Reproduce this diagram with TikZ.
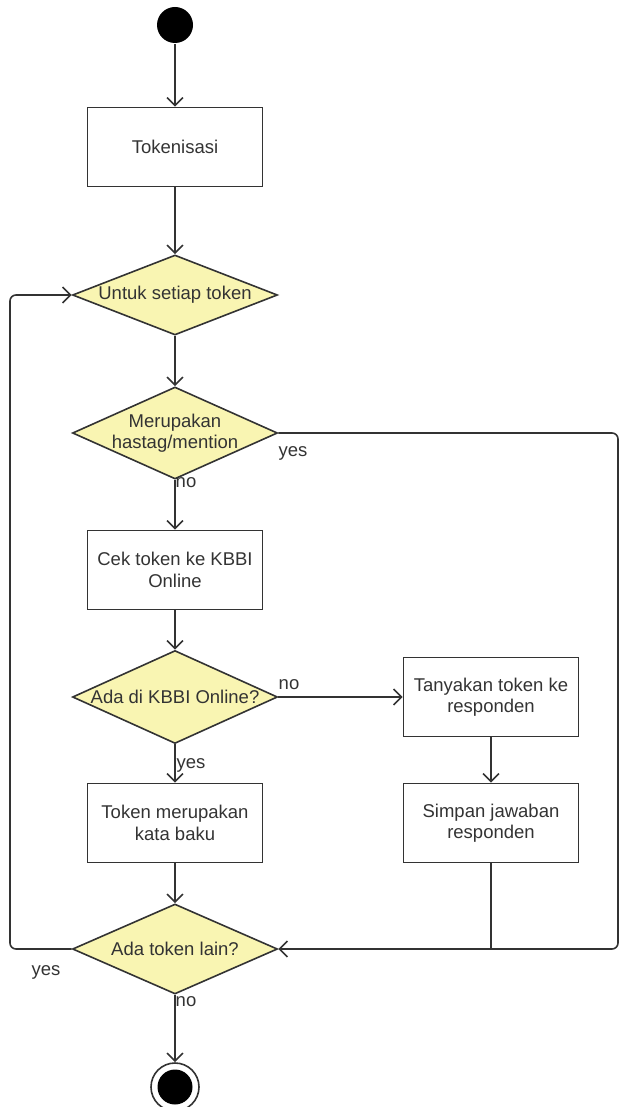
\documentclass[tikz,border=0pt]{standalone}
\usepackage{fontspec}
\setmainfont{Liberation Sans}
\usetikzlibrary{shapes.geometric, arrows.meta}

\definecolor{linegray}{RGB}{51,51,51}
\definecolor{dyellow}{RGB}{249,245,178}

\tikzset{
	box/.style={draw=linegray, line width=1.6pt, text=linegray, align=center,
		minimum width=175pt, minimum height=79pt, inner sep=0pt},
	decision/.style={diamond, draw=linegray, line width=1.6pt, fill=dyellow,
		text=linegray, align=center, inner xsep=-60pt, inner ysep=0pt,
		minimum width=205pt},
	lbl/.style={text=linegray, inner sep=0pt},
}

\begin{document}
\begin{tikzpicture}[x=1pt, y=-1pt, font=\fontsize{18.5}{21.5}\selectfont,
		>={Straight Barb[length=8pt, width=16pt]}, line width=1.6pt, color=linegray]
	\useasboundingbox (0,0) rectangle (620,1107);
	% start and stop
	\node[circle, fill=black, minimum size=36pt, inner sep=0pt] (start) at (175,25) {};
	\node[circle, draw=linegray, fill=white, minimum size=48pt, inner sep=0pt] (stop) at (175,1087) {};
	\fill[black] (stop.center) circle (17.5pt);
	% actions
	\node[box] (tok) at (175,147) {Tokenisasi};
	\node[box] (cek) at (175,570) {Cek token ke KBBI\\Online};
	\node[box] (tanya) at (491,697) {Tanyakan token ke\\responden};
	\node[box] (baku) at (175,823) {Token merupakan\\kata baku};
	\node[box] (simpan) at (491,823) {Simpan jawaban\\responden};
	% decisions
	\node[decision, minimum height=80pt] (tiap) at (175,295) {Untuk setiap token};
	\node[decision, minimum height=92pt] (hash) at (175,433) {Merupakan\\hastag/mention};
	\node[decision, minimum height=93pt] (kbbi) at (175,697) {Ada di KBBI Online?};
	\node[decision, minimum height=90pt] (lain) at (175,949) {Ada token lain?};
	\coordinate (kanan) at (618,433);
	\coordinate (kiri) at (10,295);
	% arrows, dumb way
	\draw[->] (start) -- (tok);
	\draw[->] (tok) -- (tiap);
	\draw[->] (tiap) -- (hash);
	\draw[->] (hash) -- (cek);
	\draw[->] (cek) -- (kbbi);
	\draw[->] (kbbi) -- (tanya);
	\draw[->] (kbbi) -- (baku);
	\draw[->] (tanya) -- (simpan);
	\draw[->] (baku) -- (lain);
	\draw[->] (lain) -- (stop);
	\draw[->, rounded corners=6pt] (hash.east) -- (kanan) -- (kanan |- lain.east) -- (lain.east);
	\draw (simpan.south) -- (simpan.south |- lain.east);
	\draw[->, rounded corners=6pt] (lain.west) -- (kiri |- lain.west) -- (kiri) -- (tiap.west);
	% labels
	\node[lbl] (hashno) at (186,483) {no};
	\node[lbl] (hashyes) at (293,453) {yes};
	\node[lbl] (kbbino) at (289,685) {no};
	\node[lbl] (kbbiyes) at (191,765) {yes};
	\node[lbl] (lainyes) at (46,972) {yes};
	\node[lbl] (lainno) at (186,1002) {no};
\end{tikzpicture}
\end{document}
